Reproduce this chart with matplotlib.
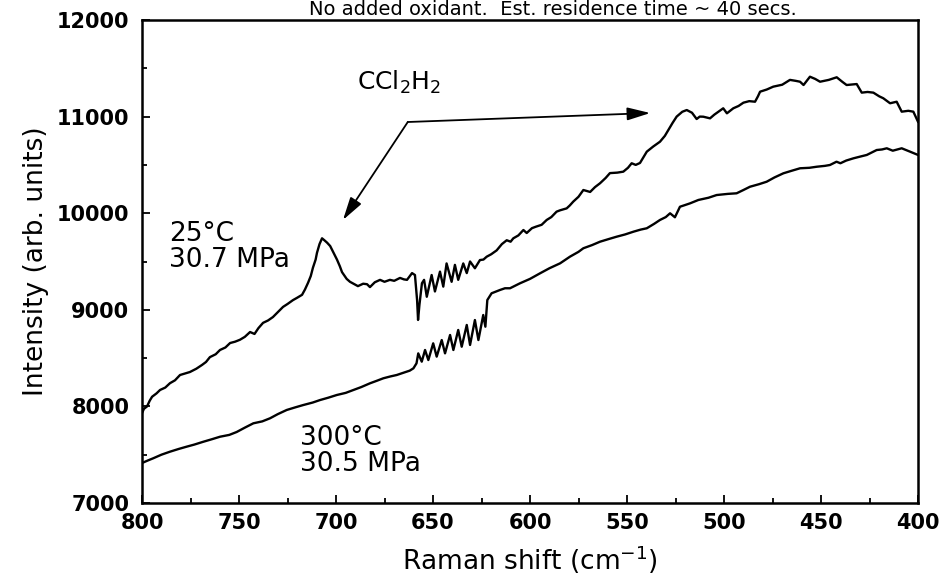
import matplotlib
matplotlib.use("Agg")
import matplotlib.pyplot as plt
from matplotlib.ticker import MultipleLocator

# ---- data ----
x_25C = [800, 799, 797.4, 796, 794.8, 792.5, 790.7, 788, 785.6, 783,
         780.4, 778, 775.3, 772, 769, 767, 765, 762, 759.8, 757,
         754.6, 752, 749.5, 747, 744.3, 742, 740, 737.6, 735, 732.5,
         730, 727.3, 725, 722.2, 720, 717.5, 716, 714.4, 713, 711.9,
         710.5, 709.8, 708.5, 707.2, 706, 704.6, 703, 701.5, 699.5, 698,
         696.9, 694.5, 692.8, 690.5, 688.7, 686, 684, 682.5, 680, 677.3,
         675, 672.2, 670, 667, 665, 663.4, 660.8, 659.3, 658.2, 657.7,
         657, 655.7, 654.6, 653.2, 650.7, 649, 646.4, 644.7, 643, 640.4,
         638.7, 637, 634.4, 632.6, 630.9, 628.4, 625.8, 624, 622.3, 620,
         617.2, 614.5, 612, 610, 608.6, 606, 603.4, 601.7, 599, 597,
         594, 591.4, 589, 586.3, 584.5, 581.1, 579.5, 577.7, 575, 572.5,
         569, 566.5, 563.9, 561, 558.8, 555, 551.9, 549.5, 547.6, 545.5,
         543.3, 539.8, 536.5, 533, 530.5, 528.7, 526.5, 524.4, 521.5, 519.2,
         516.5, 514.1, 512.5, 510.7, 507.2, 505, 502.9, 500.4, 498.5, 495.2,
         492.5, 490, 487, 484, 482.5, 481.4, 478, 474.6, 470, 466,
         463, 460.8, 459, 455.7, 453, 450.5, 446, 441.9, 439, 436.8,
         431.6, 429, 426, 423, 420, 417.9, 414.4, 411, 408.4, 405,
         402.4, 400]
y_25C = [7930, 7975, 8000, 8060, 8100, 8135, 8170, 8195, 8240, 8270,
         8325, 8340, 8356, 8390, 8430, 8460, 8510, 8540, 8584, 8610,
         8656, 8670, 8690, 8720, 8770, 8750, 8810, 8865, 8890, 8925,
         8975, 9030, 9060, 9100, 9125, 9155, 9210, 9280, 9350, 9435,
         9520, 9590, 9680, 9740, 9720, 9695, 9660, 9600, 9520, 9450,
         9390, 9320, 9290, 9265, 9245, 9270, 9265, 9235, 9285, 9310,
         9290, 9310, 9300, 9330, 9315, 9310, 9380, 9360, 9100, 8895,
         9050, 9275, 9310, 9135, 9360, 9190, 9395, 9240, 9480, 9290,
         9465, 9310, 9480, 9380, 9500, 9430, 9515, 9520, 9550, 9575,
         9615, 9680, 9720, 9705, 9740, 9770, 9826, 9795, 9845, 9860,
         9880, 9930, 9960, 10016, 10030, 10050, 10080, 10120, 10170, 10240,
         10220, 10270, 10310, 10365, 10415, 10420, 10430, 10470, 10517, 10500,
         10520, 10637, 10690, 10740, 10800, 10861, 10935, 11000, 11050, 11068,
         11040, 10975, 11000, 10999, 10982, 11020, 11050, 11086, 11034, 11086,
         11110, 11144, 11160, 11154, 11210, 11258, 11280, 11310, 11330, 11380,
         11370, 11361, 11327, 11413, 11390, 11361, 11380, 11407, 11360, 11327,
         11337, 11248, 11255, 11248, 11210, 11190, 11138, 11154, 11051, 11060,
         11051, 10947]

x_300C = [800, 797, 794.2, 790, 785.6, 781, 777, 773, 768.4, 764,
          759.8, 755, 751.2, 747, 742.6, 738, 734, 730, 725.4, 721,
          716.9, 712, 708.2, 704, 699.6, 695, 691, 687, 682.5, 679,
          675.6, 672, 668.7, 665, 662, 660.1, 658.5, 657.6, 655.8, 654.1,
          652.4, 649.9, 648.1, 645.5, 643.8, 641.2, 639.5, 637, 635.2, 632.6,
          630.9, 628.4, 626.6, 624.1, 623, 622, 619.8, 615.5, 612.9, 610.3,
          605.2, 600, 594.8, 590, 584.5, 579.4, 575, 572.5, 568, 563.9,
          559, 555.3, 551, 546.6, 543, 539.8, 536, 533, 530, 527.8,
          525.3, 522.7, 520, 517.5, 513.2, 508, 503.8, 498, 493.5, 490,
          486.6, 482, 478, 474, 469.4, 465, 460.8, 456, 452.2, 448,
          445.4, 442, 440, 437, 433.3, 430, 426.4, 421.3, 418.5, 416.1,
          413, 408.4, 404.1, 400]
y_300C = [7414, 7440, 7463, 7500, 7531, 7560, 7583, 7605, 7634, 7660,
          7686, 7705, 7735, 7780, 7825, 7845, 7877, 7920, 7963, 7990,
          8014, 8040, 8066, 8090, 8118, 8140, 8170, 8200, 8239, 8265,
          8291, 8310, 8325, 8350, 8370, 8394, 8446, 8549, 8463, 8584,
          8480, 8653, 8515, 8687, 8549, 8739, 8584, 8791, 8618, 8843,
          8636, 8894, 8687, 8946, 8825, 9101, 9171, 9205, 9223, 9223,
          9274, 9320, 9378, 9430, 9481, 9550, 9600, 9637, 9670, 9705,
          9735, 9757, 9780, 9809, 9830, 9844, 9890, 9930, 9960, 9999,
          9958, 10067, 10085, 10102, 10137, 10160, 10188, 10200, 10206, 10240,
          10274, 10300, 10326, 10370, 10413, 10440, 10465, 10470, 10481, 10490,
          10499, 10533, 10517, 10545, 10568, 10585, 10603, 10654, 10660, 10672,
          10647, 10672, 10637, 10603]

x_ticks = [800, 750, 700, 650, 600, 550, 500, 450, 400]
y_ticks = [7000, 8000, 9000, 10000, 11000, 12000]

# ---- figure ----
plt.rcParams['font.family'] = ['DejaVu Sans']
fig = plt.figure(figsize=(9.45, 5.84), dpi=100)
ax = fig.add_axes([142/945, 81/584, 776/945, 483/584])

ax.plot(x_25C, y_25C, color='black', lw=1.7)
ax.plot(x_300C, y_300C, color='black', lw=1.7)

ax.set_xlim(800, 400)
ax.set_ylim(7000, 12000)
ax.set_xticks(x_ticks)
ax.set_yticks(y_ticks)
ax.xaxis.set_minor_locator(MultipleLocator(25))
ax.yaxis.set_minor_locator(MultipleLocator(500))
ax.tick_params(which='both', direction='in', top=False, right=False, width=1.3)
ax.tick_params(which='major', length=6)
ax.tick_params(which='minor', length=3.5)
ax.tick_params(axis='y', which='major', pad=9, labelsize=15)
ax.tick_params(axis='x', which='major', pad=7, labelsize=15)
for lab in ax.get_xticklabels() + ax.get_yticklabels():
    lab.set_fontweight('bold')
for sp in ax.spines.values():
    sp.set_linewidth(1.8)

ax.set_xlabel('Raman shift (cm$^{-1}$)', fontsize=19, labelpad=8)
ax.set_ylabel('Intensity (arb. units)', fontsize=19, labelpad=6)

# title at the very top of the figure
fig.text(0.585, 1 - 15/584, 'No added oxidant.  Est. residence time ~ 40 secs.',
         ha='center', va='baseline', fontsize=14)

# annotations
ax.text(786, 9915, '25°C\n30.7 MPa', fontsize=19, ha='left', va='top',
        linespacing=1.0)
ax.text(718.5, 7810, '300°C\n30.5 MPa', fontsize=19, ha='left', va='top',
        linespacing=1.0)
ax.text(689, 11280, 'CCl$_2$H$_2$', fontsize=18, ha='left', va='baseline')

corner = (663, 10944)
aprops = dict(arrowstyle='-|>,head_length=1.0,head_width=0.28', color='black',
              lw=1.3, mutation_scale=14, shrinkA=0, shrinkB=0)
ax.annotate('', xy=(696.4, 9930), xytext=corner, arrowprops=aprops)
ax.annotate('', xy=(538, 11037), xytext=corner, arrowprops=aprops)

fig.savefig('out.png', dpi=100)
